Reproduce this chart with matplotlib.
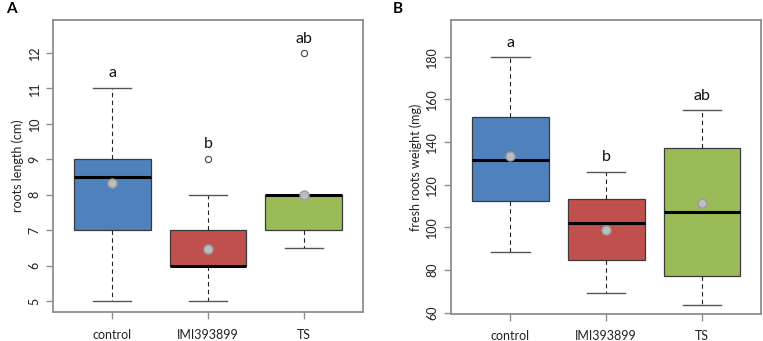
import matplotlib
matplotlib.use("Agg")
from matplotlib import pyplot as plt

plt.rcParams['font.family'] = ['Lato', 'DejaVu Sans']

groups = ["control", "IMI393899", "TS"]
box_colors = ["#4F81BD", "#C0504D", "#9BBB59"]

# panel A - roots length (cm)
a_whislo = [5.0, 5.0, 6.5]
a_q1 = [7.0, 6.0, 7.0]
a_med = [8.5, 6.0, 8.0]
a_q3 = [9.0, 7.0, 8.0]
a_whishi = [11.0, 8.0, 8.0]
a_mean = [8.33, 6.47, 8.0]
a_fliers = [[], [9.0], [12.0]]
a_letters = ["a", "b", "ab"]
a_letter_y = [11.44, 9.43, 12.39]

# panel B - fresh roots weight (mg)
b_whislo = [88.3, 69.1, 63.4]
b_q1 = [112.5, 84.5, 77.0]
b_med = [131.4, 102.0, 107.2]
b_q3 = [151.8, 113.3, 137.2]
b_whishi = [180.0, 126.0, 155.0]
b_mean = [133.3, 98.9, 111.6]
b_fliers = [[], [], []]
b_letters = ["a", "b", "ab"]
b_letter_y = [186.6, 133.0, 161.7]

spine_col = "#8f8f8f"


def draw_panel(ax, whislo, q1, med, q3, whishi, mean, fliers, letters, letter_y,
               ylim, yticks, ylabel):
    stats = []
    for i in range(len(groups)):
        stats.append(dict(label=groups[i], whislo=whislo[i], q1=q1[i], med=med[i],
                          q3=q3[i], whishi=whishi[i], mean=mean[i], fliers=fliers[i]))
    bp = ax.bxp(stats, positions=[1, 2, 3], widths=0.8, capwidths=0.4,
                patch_artist=True, showmeans=True,
                boxprops=dict(edgecolor="#3a3a3a", linewidth=0.9),
                medianprops=dict(color="black", linewidth=2.2),
                whiskerprops=dict(color="#222222", linewidth=0.8, linestyle=(0, (4, 3))),
                capprops=dict(color="#555555", linewidth=1.0),
                meanprops=dict(marker="o", markerfacecolor="#bdbdbd",
                               markeredgecolor="#9a9a9a", markersize=6.5),
                flierprops=dict(marker="o", markerfacecolor="white",
                                markeredgecolor="#444444", markersize=4.5,
                                markeredgewidth=0.8))
    for patch, col in zip(bp['boxes'], box_colors):
        patch.set_facecolor(col)
    for i in range(len(groups)):
        ax.text(i + 1, letter_y[i], letters[i], ha="center", va="center",
                fontsize=11.5, color="#111111")
    ax.set_xlim(0.38, 3.62)
    ax.set_ylim(*ylim)
    ax.set_yticks(yticks)
    ax.set_yticklabels([str(t) for t in yticks], rotation=90, va="center")
    ax.set_ylabel(ylabel, fontsize=9, color="#222222", labelpad=3)
    for s in ax.spines.values():
        s.set_color(spine_col)
        s.set_linewidth(1.3)
    ax.tick_params(axis="both", colors=spine_col, length=5, width=1.0,
                   labelcolor="#222222", labelsize=9)
    ax.tick_params(axis="y", pad=4)
    ax.tick_params(axis="x", pad=7)


fig = plt.figure(figsize=(7.63, 3.41), dpi=100)
axA = fig.add_axes([0.0695, 0.085, 0.4063, 0.8562])
axB = fig.add_axes([0.591, 0.080, 0.407, 0.8613])

draw_panel(axA, a_whislo, a_q1, a_med, a_q3, a_whishi, a_mean, a_fliers,
           a_letters, a_letter_y, (4.69, 12.93), [5, 6, 7, 8, 9, 10, 11, 12],
           "roots length (cm)")
draw_panel(axB, b_whislo, b_q1, b_med, b_q3, b_whishi, b_mean, b_fliers,
           b_letters, b_letter_y, (59.5, 197.2), [60, 80, 100, 120, 140, 160, 180],
           "fresh roots weight (mg)")

fig.text(0.008, 0.975, "A", fontsize=11, fontweight="bold", ha="left", va="center")
fig.text(0.515, 0.975, "B", fontsize=11, fontweight="bold", ha="left", va="center")

fig.savefig("out.png", dpi=100)
